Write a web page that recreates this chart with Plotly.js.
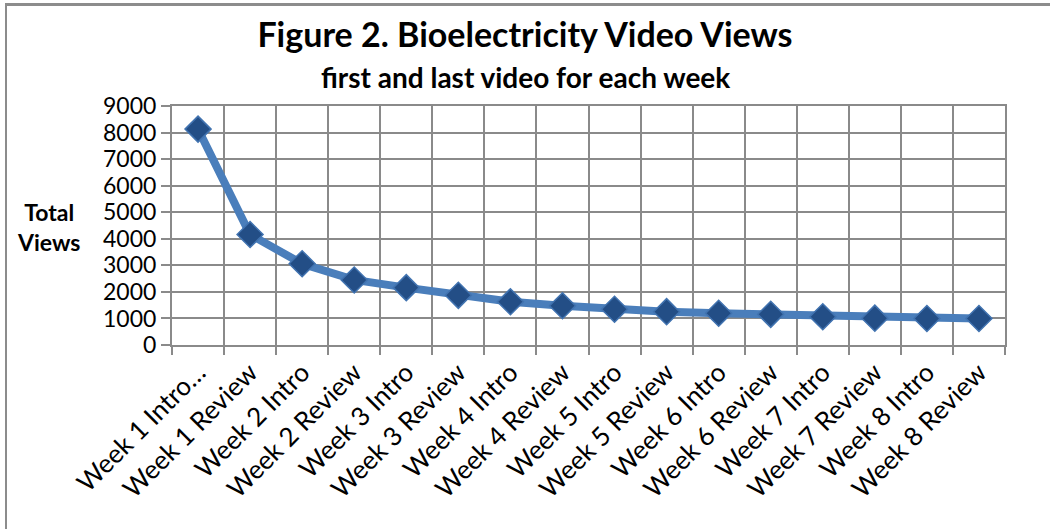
<!DOCTYPE html>
<html>
<head>
<meta charset="utf-8">
<script src="https://cdn.plot.ly/plotly-3.0.1.min.js"></script>
<style>
  html, body { margin: 0; padding: 0; background: #fff; }
  #frame { position: absolute; left: 5px; top: 3px; width: 1045px; height: 526px;
           border-top: 3px solid #8c8c8c; border-left: 2px solid #8c8c8c; box-sizing: border-box; }
  #chart { position: absolute; left: 0; top: 0; width: 1050px; height: 529px; }
</style>
</head>
<body>
<div id="frame"></div>
<div id="chart"></div>
<script>
const categories = [
  "Week 1 Intro…", "Week 1 Review", "Week 2 Intro", "Week 2 Review",
  "Week 3 Intro", "Week 3 Review", "Week 4 Intro", "Week 4 Review",
  "Week 5 Intro", "Week 5 Review", "Week 6 Intro", "Week 6 Review",
  "Week 7 Intro", "Week 7 Review", "Week 8 Intro", "Week 8 Review"
];
const totalViews = [8130, 4160, 3060, 2450, 2160, 1870, 1630, 1480,
                    1345, 1255, 1195, 1155, 1065, 1010, 1000, 1000];
const yTicks = [0, 1000, 2000, 3000, 4000, 5000, 6000, 7000, 8000, 9000];

const FONT = "Lato, 'Open Sans', sans-serif";
const GRID = "#8a8a8a";

const trace = {
  type: "scatter",
  mode: "lines+markers",
  x: categories,
  y: totalViews,
  line: { color: "#4a7ebb", width: 8 },
  marker: { symbol: "diamond", size: 20, color: "#234e86",
            line: { color: "#4173b0", width: 1.5 } },
  hoverinfo: "x+y",
  cliponaxis: false
};

const layout = {
  width: 1050, height: 529,
  paper_bgcolor: "rgba(0,0,0,0)",
  plot_bgcolor: "#ffffff",
  margin: { l: 172, r: 45, t: 106, b: 184 },
  showlegend: false,
  font: { family: FONT, color: "#000", size: 23 },
  title: { text: "<b>Figure 2. Bioelectricity Video Views</b>", x: 0.5, xref: "container",
           xanchor: "center", y: 1 - 35/529, yanchor: "middle",
           font: { family: FONT, size: 34, color: "#000" } },
  annotations: [
    { text: "<b>first and last video for each week</b>", xref: "paper", yref: "paper",
      x: (525 - 172) / 833, y: 1 + (106 - 77) / 239, xanchor: "center", yanchor: "middle",
      showarrow: false, font: { family: FONT, size: 28, color: "#000" } },
    { text: "<b>Total<br>Views</b>", xref: "paper", yref: "paper",
      x: (48 - 172) / 833, y: (345 - 227) / 239, xanchor: "center", yanchor: "middle",
      showarrow: false, align: "center", font: { family: FONT, size: 23, color: "#000" } }
  ],
  xaxis: {
    type: "category",
    range: [-0.5, 15.5],
    autorange: false,
    tickson: "boundaries",
    ticks: "outside", ticklen: 8, tickcolor: GRID, tickwidth: 2,
    showgrid: true, gridcolor: GRID, gridwidth: 2,
    showline: true, linecolor: GRID, linewidth: 2, mirror: true,
    tickangle: -45,
    tickfont: { family: FONT, size: 26, color: "#000" },
    automargin: false,
    fixedrange: true
  },
  yaxis: {
    range: [0, 9000],
    autorange: false,
    tickvals: yTicks,
    ticktext: yTicks.map(String),
    ticks: "outside", ticklen: 9, tickcolor: GRID, tickwidth: 2,
    showgrid: true, gridcolor: GRID, gridwidth: 2,
    showline: true, linecolor: GRID, linewidth: 2, mirror: true,
    zeroline: false,
    tickfont: { family: FONT, size: 23, color: "#000" },
    automargin: false,
    fixedrange: true
  }
};

Plotly.newPlot("chart", [trace], layout, { displayModeBar: false, staticPlot: true });
</script>
</body>
</html>
